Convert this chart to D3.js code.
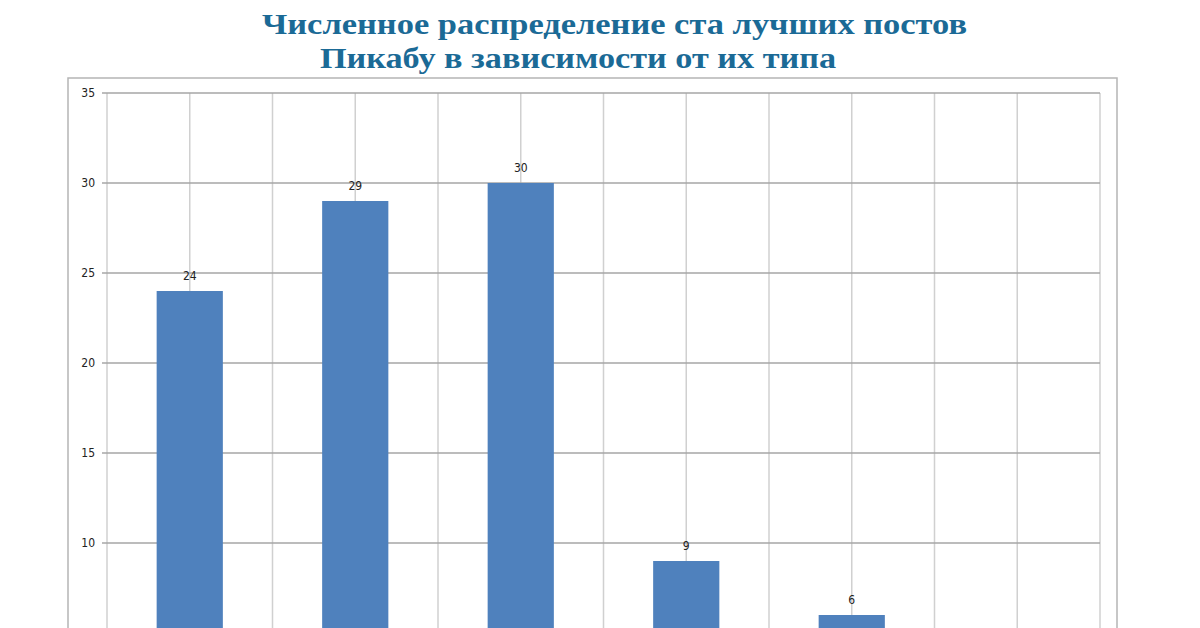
<!DOCTYPE html>
<html><head><meta charset="utf-8">
<script src="https://cdn.jsdelivr.net/npm/d3@7"></script>
<style>body{margin:0;background:#fff}</style></head>
<body><svg id="c" width="1200" height="628"></svg>
<script>
const categories = ["A","B","C","D","E","F"];
const values = [24, 29, 30, 9, 6, 2];
const yTicks = [0,5,10,15,20,25,30,35];
const titleLines = ["Численное распределение ста лучших постов","Пикабу в зависимости от их типа"];

const svg = d3.select("#c");
const W=1200, H=628;
const L=107, R=1100, T=93, B=723;
const y = d3.scaleLinear().domain([0,35]).range([B,T]);
const x = d3.scaleBand().domain(categories).range([L,R]).paddingInner(0.6).paddingOuter(0.3);
const gx = d3.scaleLinear().domain([0,12]).range([L,R]);

svg.append("rect").attr("x",68).attr("y",78).attr("width",1049).attr("height",600)
  .attr("fill","#fff").attr("stroke","#b5b5b5").attr("stroke-width",1.5);

svg.append("g").selectAll("line").data(d3.range(0,13)).join("line")
  .attr("x1",d=>gx(d)).attr("x2",d=>gx(d)).attr("y1",T).attr("y2",B)
  .attr("stroke","#d0d0d0").attr("stroke-width",1.5);
svg.append("g").selectAll("line").data(yTicks).join("line")
  .attr("x1",L-5).attr("x2",R).attr("y1",d=>y(d)).attr("y2",d=>y(d))
  .attr("stroke","#a6a6a6").attr("stroke-width",1.5);
svg.append("g").selectAll("text").data(yTicks.filter(d=>y(d)+4<H-2)).join("text")
  .attr("x",95).attr("y",d=>y(d)+4).attr("text-anchor","end")
  .attr("font-family","DejaVu Sans Condensed, DejaVu Sans").attr("font-size",12).attr("fill","#222")
  .text(d=>d);

svg.append("g").selectAll("rect").data(values).join("rect")
  .attr("x",(d,i)=>x(categories[i])).attr("width",x.bandwidth())
  .attr("y",d=>y(d)).attr("height",d=>y(0)-y(d)).attr("fill","#4f81bd");
const lab = values.map((v,i)=>({v,c:categories[i]})).filter(d=>y(d.v)-11<H-2);
svg.append("g").selectAll("text").data(lab).join("text")
  .attr("x",d=>x(d.c)+x.bandwidth()/2).attr("y",d=>y(d.v)-11)
  .attr("text-anchor","middle").attr("font-family","DejaVu Sans Condensed, DejaVu Sans")
  .attr("font-size",12).attr("fill","#222").text(d=>d.v);

svg.append("text").attr("x",262).attr("y",34).attr("textLength",705).attr("lengthAdjust","spacingAndGlyphs")
  .attr("font-family","Liberation Serif").attr("font-weight","bold").attr("font-size",29)
  .attr("fill","#1b6a96").text(titleLines[0]);
svg.append("text").attr("x",320).attr("y",68).attr("textLength",516).attr("lengthAdjust","spacingAndGlyphs")
  .attr("font-family","Liberation Serif").attr("font-weight","bold").attr("font-size",29)
  .attr("fill","#1b6a96").text(titleLines[1]);
</script></body></html>
